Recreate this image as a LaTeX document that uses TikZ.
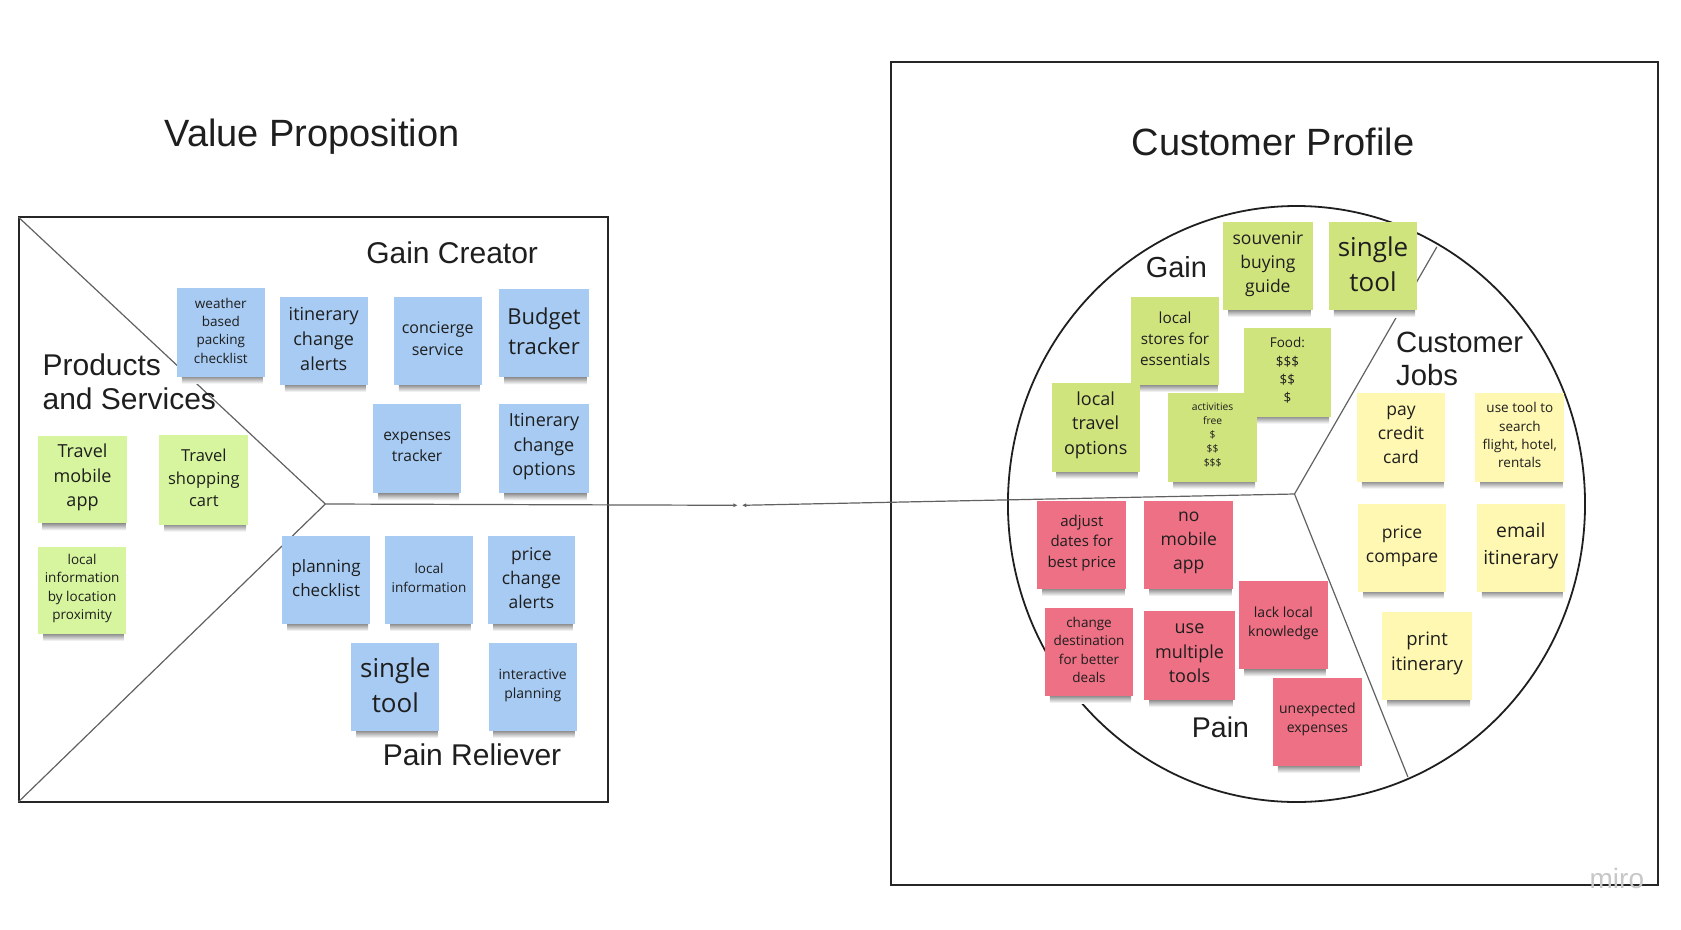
\documentclass[tikz,border=0pt]{standalone}
\usepackage{fontspec}
\setmainfont{Liberation Sans}
\newfontfamily\osans{Open Sans}
\usetikzlibrary{arrows.meta}
\definecolor{sblue}{RGB}{167,203,243}
\definecolor{sgreenA}{RGB}{214,245,158}
\definecolor{sgreenB}{RGB}{208,228,126}
\definecolor{syellow}{RGB}{255,248,178}
\definecolor{spink}{RGB}{238,112,132}
\definecolor{ink}{RGB}{30,30,30}
\tikzset{
  frame/.style={draw=black!85, line width=2pt},
  divline/.style={draw=black!62, line width=1.2pt},
  circline/.style={draw=black!88, line width=1.8pt},
  stext/.style={align=center, text=ink, inner sep=0pt},
  title/.style={anchor=base, inner sep=0pt, text=ink, font=\fontsize{38}{41}\selectfont},
  area/.style={anchor=base west, inner sep=0pt, text=ink, font=\fontsize{30}{33}\selectfont},
  tip/.style={-{Triangle[length=4pt,width=3.5pt]}}
}
\newcommand\sticky[9]{%
  \shade[top color=black!62,bottom color=white] ({#2+5},{#5-3}) rectangle ({#4-2},{#5+7});
  \fill[#6] (#2,#3) rectangle (#4,#5);
  \node[stext, font=\osans\fontsize{#7}{#8}\selectfont] (#1) at ({(#2+#4)/2},{(#3+#5)/2-2}) {#9};
}
\begin{document}
\begin{tikzpicture}[x=0.995pt,y=-1pt]
\useasboundingbox (0pt,0pt) rectangle (1681pt,-929pt);
% titles
\node[title] (vptitle) at (313.6,146.7) {Value Proposition};
\node[title] (cptitle) at (1279.5,155.7) {Customer Profile};
% value proposition frame
\coordinate (vpTL) at (18.7,217.3);
\coordinate (vpBR) at (611.4,801.7);
\coordinate (vpBL) at (18.7,801.7);
\coordinate (apex) at (327,504);
\draw[frame] (vpTL) rectangle (vpBR);
\draw[divline] (vpTL) -- (apex) -- (vpBL);
% customer profile frame
\coordinate (cpTL) at (895,62.3);
\coordinate (cpBR) at (1666,885);
\draw[frame] (cpTL) rectangle (cpBR);
\coordinate (cpO) at (1303,504);
\draw[circline] (cpO) ellipse [x radius=290, y radius=298];
\coordinate (cpc) at (1301,494);
\coordinate (cpTop) at (1444,247);
\coordinate (cpBot) at (1415,777);
\draw[divline] (cpc) -- (cpTop);
\draw[divline] (cpc) -- (cpBot);
% link between the two
\coordinate (gapL) at (741,505.3);
\coordinate (gapR) at (746,505.3);
\draw[divline,tip] (apex) -- (gapL);
\draw[divline,tip] (cpc) -- (gapR);
% value proposition stickies
\sticky{weather}{177.8}{288.3}{266.1}{376.7}{sblue}{13.5}{18.3}{weather\\based\\packing\\checklist}
\sticky{itinalerts}{281.2}{296.7}{369.5}{385}{sblue}{18}{24.7}{itinerary\\change\\alerts}
\sticky{concierge}{395.8}{296.7}{484.1}{385}{sblue}{16}{21.7}{concierge\\service}
\sticky{budget}{502}{289}{591.5}{377.3}{sblue}{22}{30}{Budget\\tracker}
\sticky{expenses}{375.1}{404}{463.4}{493.3}{sblue}{15.5}{21}{expenses\\tracker}
\sticky{itinopts}{502}{404}{591.5}{493.3}{sblue}{18}{24.7}{Itinerary\\change\\options}
\sticky{planning}{283.6}{536}{371.9}{624}{sblue}{17}{23.3}{planning\\checklist}
\sticky{localinfo}{387}{536}{475.3}{624}{sblue}{13.5}{18.3}{local\\information}
\sticky{pricealerts}{490.5}{536}{577.6}{624}{sblue}{17.5}{24}{price\\change\\alerts}
\sticky{singletoolL}{353.2}{643.3}{441.5}{731}{sblue}{26}{35}{single\\tool}
\sticky{interactive}{491.2}{643.3}{579.6}{731}{sblue}{14}{19}{interactive\\planning}
\sticky{travelapp}{37.8}{435.7}{128.1}{523.3}{sgreenA}{18}{24.7}{Travel\\mobile\\app}
\sticky{travelcart}{160.3}{435}{249.4}{524.7}{sgreenA}{16.5}{22.7}{Travel\\shopping\\cart}
\sticky{localprox}{38.6}{546.7}{126.5}{634}{sgreenA}{13.5}{18.3}{local\\information\\by location\\proximity}
% customer profile stickies
\sticky{souvenir}{1229.2}{221.7}{1319.3}{310}{sgreenB}{17.5}{24}{souvenir\\buying\\guide}
\sticky{singletoolR}{1335.5}{221.7}{1424.3}{310}{sgreenB}{26}{35}{single\\tool}
\sticky{localstores}{1136.5}{296.7}{1225.4}{385}{sgreenB}{15.3}{20.8}{local\\stores for\\essentials}
\sticky{food}{1249.9}{328.3}{1337.9}{416.7}{sgreenB}{13.5}{18.3}{Food:\\\$\$\$\\\$\$\\\$}
\sticky{localtravel}{1056.8}{382.7}{1145.6}{471.7}{sgreenB}{18}{24.5}{local\\travel\\options}
\sticky{activities}{1173.9}{392.7}{1263.5}{481.7}{sgreenB}{10.3}{14}{activities\\free\\\$\\\$\$\\\$\$\$}
\sticky{paycc}{1363.6}{392.7}{1452.5}{481.7}{syellow}{17.5}{24}{pay\\credit\\card}
\sticky{usetool}{1482.6}{392.7}{1572.3}{481.7}{syellow}{13.5}{18.3}{use tool to\\search\\flight, hotel,\\rentals}
\sticky{pricecomp}{1365.2}{504}{1453}{591.7}{syellow}{17.5}{23.7}{price\\compare}
\sticky{email}{1484.3}{504}{1572.6}{591.7}{syellow}{19.3}{26.3}{email\\itinerary}
\sticky{print}{1389}{611.7}{1479.5}{700}{syellow}{18.5}{25}{print\\itinerary}
\sticky{adjust}{1042.5}{500.7}{1132}{589}{spink}{15}{20.3}{adjust\\dates for\\best price}
\sticky{nomobile}{1150}{500.7}{1239.6}{589}{spink}{17.5}{24}{no\\mobile\\app}
\sticky{changedest}{1050.2}{607.7}{1138.8}{696}{spink}{13.5}{18.3}{change\\destination\\for better\\deals}
\sticky{multitools}{1150}{611}{1240.9}{700}{spink}{18}{24.5}{use\\multiple\\tools}
\sticky{lacklocal}{1245.3}{581}{1334.4}{669.3}{spink}{14}{19}{lack local\\knowledge}
\sticky{unexpected}{1279.2}{677.7}{1368.8}{766}{spink}{14}{19}{unexpected\\expenses}
% area labels
\node[area] (gaincreator) at (367.9,263.3) {Gain Creator};
\node[area] (products) at (42.6,375.7) {Products};
\node[area] (services) at (42.6,409) {and Services};
\node[area] (painreliever) at (384.6,765) {Pain Reliever};
\node[area, font=\fontsize{29}{32}\selectfont] (gain) at (1151.3,277.3) {Gain};
\node[area, font=\fontsize{29.3}{32}\selectfont] (customer) at (1403,352.7) {Customer};
\node[area, font=\fontsize{29.3}{32}\selectfont] (jobs) at (1403,385) {Jobs};
\node[area, font=\fontsize{28.5}{31}\selectfont] (pain) at (1197.7,737.3) {Pain};
% watermark
\node[anchor=center, inner sep=0pt, text=black!22, font=\fontsize{28}{30}\selectfont] (miro) at (1625,878) {miro};
\end{tikzpicture}
\end{document}
